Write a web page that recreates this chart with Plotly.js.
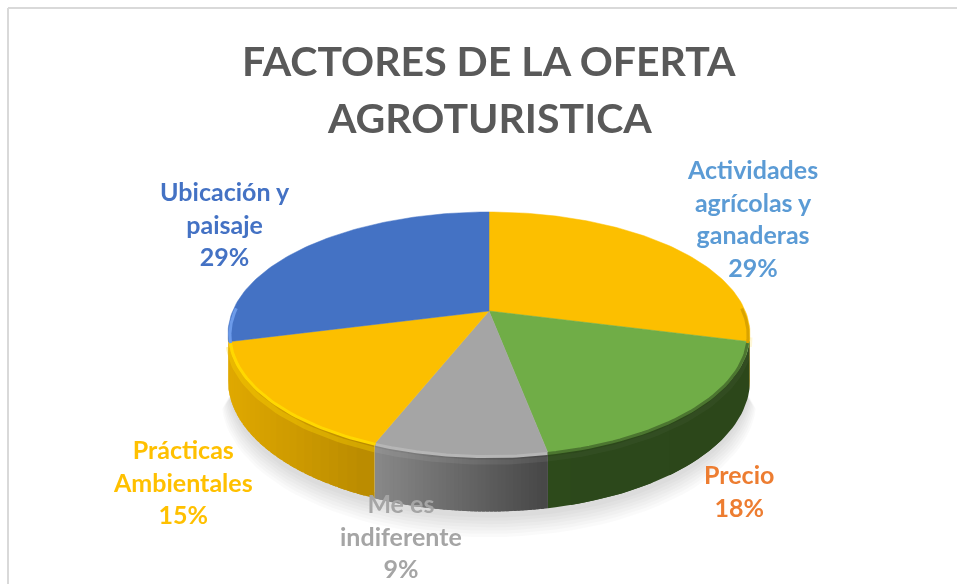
<!DOCTYPE html>
<html><head><meta charset="utf-8">
<script src="https://cdn.plot.ly/plotly-3.0.1.min.js"></script>
<style>html,body{margin:0;padding:0;background:#fff;overflow:hidden}#c{width:957px;height:584px;filter:blur(0.5px)}</style>
</head><body><div id="c"></div>
<script>
// DATA
var titleLines = ["FACTORES DE LA OFERTA", "AGROTURISTICA"];
var titleY = [60, 117];
var categories = ["Actividades<br>agrícolas y<br>ganaderas", "Precio", "Me es<br>indiferente", "Prácticas<br>Ambientales", "Ubicación y<br>paisaje"];
var values = [29, 18, 9, 15, 29];
var sliceColors = ["#FCBF00", "#70AD47", "#A5A5A5", "#FCBF00", "#4472C4"];
var labelColors = ["#5B9BD5", "#ED7D31", "#A5A5A5", "#FFC000", "#4472C4"];
var labelX = [752, 739, 401, 183, 225];
var labelY = [218, 490.5, 535.5, 481, 223];
// wall shade left->right on screen per slice, and rim highlight
var wallFrom = ["#C79500", "#2D4B1C", "#8A8A8A", "#E0A900", "#E0A900"];
var wallTo   = ["#B88A00", "#2C471A", "#474747", "#BA8B00", "#E0A900"];
var rimColors = ["#D9A300", "#4C7630", "#B6B6B6", "#FFD800", "#6C9BEA"];
var rimGlow = ["rgba(255,210,0,.15)", "rgba(255,255,255,.03)", "rgba(255,255,255,.07)", "rgba(255,215,0,.35)", "rgba(0,0,0,0)"];

// projection of the disc
var P = {cx:489, cy:311, a:256.3, b:117.7, k:0.1886, h:45};
function proj(theta, r, z){
  var u = r*Math.sin(theta), v = r*Math.cos(theta), w = 1 + P.k*v;
  return [P.cx + P.a*u/w, P.cy + (-P.b*v + (z||0))/w];
}
function hex(c){return [1,3,5].map(function(i){return parseInt(c.substr(i,2),16);});}
function mix(a,b,t){var A=hex(a),B=hex(b);return "rgb("+A.map(function(x,i){return Math.round(x+(B[i]-x)*t);}).join(",")+")";}
var D = Math.PI/180, total = values.reduce(function(s,v){return s+v;},0);
var edges=[0]; values.forEach(function(v,i){edges.push(edges[i]+v/total*360);});

var traces=[];
function poly(pts,fill,line,lw){traces.push({type:"scatter",mode:"lines",x:pts.map(function(p){return p[0];}),y:pts.map(function(p){return p[1];}),
  fill:"toself",fillcolor:fill,line:{color:line||fill,width:lw===undefined?0.8:lw},hoverinfo:"skip",showlegend:false});}
function arc(t0,t1,r,z,n){var o=[];for(var i=0;i<=n;i++){o.push(proj((t0+(t1-t0)*i/n)*D,r,z));}return o;}
function stroke(p,color,width){traces.push({type:"scatter",mode:"lines",x:p.map(function(q){return q[0];}),y:p.map(function(q){return q[1];}),
    line:{color:color,width:width},hoverinfo:"skip",showlegend:false});}

// soft shadow
[[1.024,17],[1.02,15],[1.016,13],[1.012,11],[1.008,9],[1.004,7],[1.0,5]].forEach(function(s){
  var pts=arc(105,255,s[0],P.h+s[1],50).concat(arc(255,105,0.97,P.h,30));
  poly(pts,"rgba(0,0,0,.02)","rgba(0,0,0,0)",0);
});

// walls
var front0=100, front1=259.5, rim0=88, rim1=272;
values.forEach(function(v,i){
  var t0=Math.max(edges[i],front0), t1=Math.min(edges[i+1],front1);
  if(t1<=t0) return;
  var A=hex(wallFrom[i]),B=hex(wallTo[i]);
  var diff=Math.max(Math.abs(A[0]-B[0]),Math.abs(A[1]-B[1]),Math.abs(A[2]-B[2]));
  var n=Math.max(2,Math.ceil(diff/1.5));
  var xs=proj(t0*D,1,0)[0], xe=proj(t1*D,1,0)[0], xl=Math.min(xs,xe), xr=Math.max(xs,xe);
  // drawn from the far end of the slice so each piece overlaps the next and leaves no seam
  for(var j=n-1;j>=0;j--){
    var a=t0+(t1-t0)*j/n, b=t0+(t1-t0)*(j+1)/n;
    var xm=proj((a+b)/2*D,1,0)[0];
    var col=mix(wallFrom[i],wallTo[i],(xm-xl)/(xr-xl||1));
    var bb=j===n-1?b:b+(t1-t0)/n*0.8;
    var steps=Math.max(2,Math.ceil((bb-a)/1.5));
    poly(arc(a,bb,1,0,steps).concat(arc(bb,a,1,P.h,steps)),col,"rgba(0,0,0,0)",0);
  }
  stroke(arc(t0,t1,1,5,40),rimGlow[i],5);
});

// top face
values.forEach(function(v,i){
  var pts=[[P.cx,P.cy]].concat(arc(edges[i],edges[i+1],1,0,Math.ceil(v*3)));
  pts.push([P.cx,P.cy]);
  poly(pts,sliceColors[i],sliceColors[i],0.5);
});

// bevel along the front rim
values.forEach(function(v,i){
  var t0=Math.max(edges[i],rim0), t1=Math.min(edges[i+1],rim1);
  if(t1<=t0) return;
  stroke(arc(t0,t1,0.993,1.5,40),rimColors[i],3);
});

var font="Lato, Carlito, sans-serif";
var annotations=categories.map(function(c,i){return {
  x:labelX[i],y:labelY[i],xref:"x",yref:"y",showarrow:false,align:"center",xanchor:"center",yanchor:"middle",
  text:"<b>"+c+"<br>"+values[i]+"%</b>",font:{family:font,size:25,color:labelColors[i]}};});
titleLines.forEach(function(t,i){annotations.push({x:489,y:titleY[i],xref:"x",yref:"y",showarrow:false,align:"center",xanchor:"center",yanchor:"middle",
  text:"<b>"+t+"</b>",font:{family:font,size:41,color:"#595959"}});});

var layout={width:957,height:584,margin:{l:0,r:0,t:0,b:0},paper_bgcolor:"#fff",plot_bgcolor:"#fff",showlegend:false,
  xaxis:{range:[0,957],visible:false,fixedrange:true},
  yaxis:{range:[584,0],visible:false,fixedrange:true},
  annotations:annotations,
  shapes:[
   {type:"line",xref:"x",yref:"y",x0:8,y0:8,x1:957,y1:8,line:{color:"#D9D9D9",width:2}},
   {type:"line",xref:"x",yref:"y",x0:8,y0:8,x1:8,y1:584,line:{color:"#D9D9D9",width:2}}
  ]};
Plotly.newPlot("c",traces,layout,{displayModeBar:false,staticPlot:true});
</script></body></html>
